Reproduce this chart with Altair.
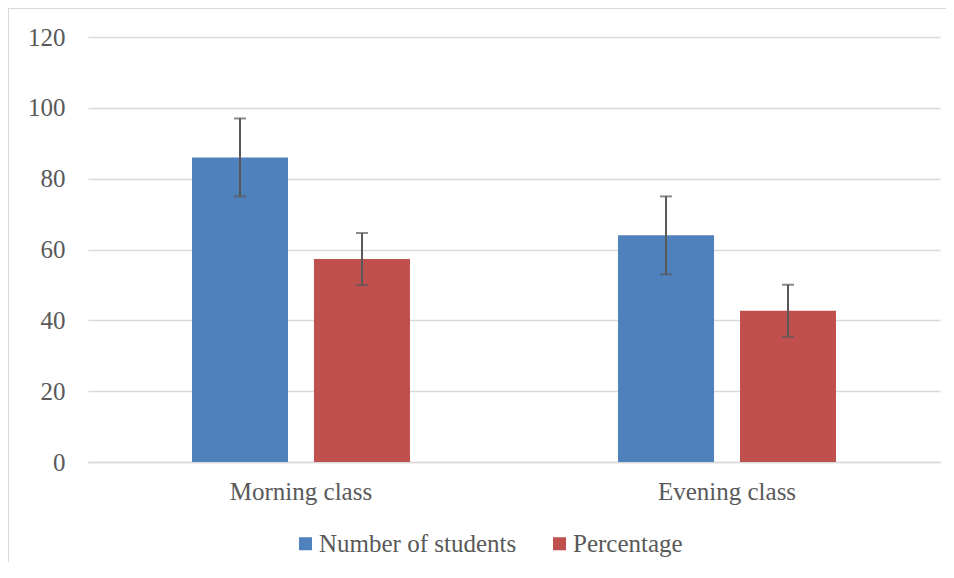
import altair as alt
import pandas as pd

categories = ["Morning class", "Evening class"]
series = ["Number of students", "Percentage"]
students = [86, 64]
students_err = [11, 11]
percentage = [57.3, 42.7]
percentage_err = [7.35, 7.35]
colors = ["#4F81BD", "#C0504D"]
y_ticks = [0, 20, 40, 60, 80, 100, 120]

rows = []
for i, c in enumerate(categories):
    rows.append(dict(cls=c, series=series[0], value=students[i], err=students_err[i]))
    rows.append(dict(cls=c, series=series[1], value=percentage[i], err=percentage_err[i]))
df = pd.DataFrame(rows)
df["low"] = df["value"] - df["err"]
df["high"] = df["value"] + df["err"]

FONT = "Liberation Serif"
TXT = "#595959"
GRID = "#D9D9D9"
FS = 25

x = alt.X(
    "cls:N", sort=categories,
    scale=alt.Scale(paddingInner=0.4883, paddingOuter=0.2441),
    axis=alt.Axis(title=None, labelAngle=0, ticks=False, tickSize=0,
                  domainColor=GRID, domainWidth=1.5, labelPadding=17,
                  labelFontSize=FS, labelColor=TXT, labelFont=FONT, grid=False),
)
xo = alt.XOffset("series:N", sort=series,
                 scale=alt.Scale(paddingInner=0.213, paddingOuter=0))

y_scale = alt.Scale(domain=[0, 120])
y_axis = alt.Axis(values=y_ticks, title=None, domain=False, ticks=False, tickSize=0,
                  labelPadding=23, gridColor=GRID, gridWidth=1.5,
                  labelFontSize=FS, labelColor=TXT, labelFont=FONT)

base = alt.Chart(df)

bars = base.mark_bar().encode(
    x=x, xOffset=xo,
    y=alt.Y("value:Q", scale=y_scale, axis=y_axis),
    color=alt.Color("series:N", sort=series,
                    scale=alt.Scale(domain=series, range=colors),
                    legend=alt.Legend(title=None, orient="none", legendX=205, legendY=494,
                                      direction="horizontal", symbolType="square",
                                      symbolSize=169, symbolStrokeWidth=0,
                                      labelFontSize=FS, labelColor=TXT, labelFont=FONT,
                                      labelLimit=0, labelOffset=1, columnPadding=30)),
)

err_rule = base.mark_rule(color=TXT, strokeWidth=2).encode(
    x=x, xOffset=xo,
    y=alt.Y("low:Q", scale=y_scale, axis=y_axis),
    y2="high:Q",
)
cap_low = base.mark_tick(color=TXT, thickness=2, size=12).encode(
    x=x, xOffset=xo, y=alt.Y("low:Q", scale=y_scale, axis=y_axis))
cap_high = base.mark_tick(color=TXT, thickness=2, size=12).encode(
    x=x, xOffset=xo, y=alt.Y("high:Q", scale=y_scale, axis=y_axis))

frame_v = alt.Chart(df).mark_rule(color=GRID, strokeWidth=1).encode(
    x=alt.value(-79.5), y=alt.value(-28.5), y2=alt.value(700))
frame_h = alt.Chart(df).mark_rule(color=GRID, strokeWidth=1).encode(
    x=alt.value(-79.5), x2=alt.value(1000), y=alt.value(-28.5))

chart = alt.layer(bars, err_rule, cap_low, cap_high, frame_v, frame_h).properties(
    width=852, height=425,
    autosize=alt.AutoSizeParams(type="none"),
    padding={"left": 80, "top": 29, "right": 6, "bottom": 100},
).configure(font=FONT).configure_view(stroke=None).configure_legend(
    labelFont=FONT, labelFontSize=FS, labelColor=TXT
).configure_axis(labelFont=FONT)

chart.save("out.html", embed_options={"renderer": "svg", "actions": False})
